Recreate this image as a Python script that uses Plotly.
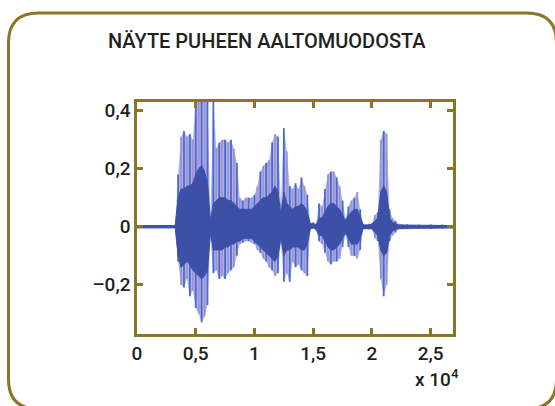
import plotly.graph_objects as go

# ---- data (sample index, amplitude envelopes) ----
sample_pos = [0, 3250, 3500, 3750, 4000, 4250, 4500, 4750, 5000, 5250, 5500, 5750, 6000,
              6250, 6500, 6750, 7000, 7250, 7500, 7750, 8000, 8250, 8500, 8750, 9000,
              9250, 9500, 9750, 10000, 10250, 10500, 10750, 11000, 11250, 11500, 11750,
              12000, 12250, 12500, 12750, 13000, 13250, 13500, 13750, 14000, 14250, 14500,
              14750, 15000, 15250, 15500, 15750, 16000, 16250, 16500, 16750, 17000, 17250,
              17500, 17750, 18000, 18250, 18500, 18750, 19000, 19250, 19500, 19750, 20000,
              20250, 20500, 20750, 21000, 21250, 21500, 21750, 22000, 22250, 23000, 24000,
              25000, 26000, 26900]
peak_hi = [0.005, 0.005, 0.18, 0.31, 0.33, 0.31, 0.32, 0.30, 0.43, 0.43, 0.43, 0.43, 0.43,
           0.04, 0.43, 0.27, 0.29, 0.30, 0.30, 0.29, 0.30, 0.27, 0.22, 0.10, 0.09,
           0.10, 0.10, 0.10, 0.11, 0.14, 0.19, 0.21, 0.22, 0.23, 0.29, 0.32,
           0.31, 0.08, 0.34, 0.26, 0.14, 0.13, 0.15, 0.13, 0.17, 0.14, 0.11,
           0.012, 0.015, 0.01, 0.08, 0.07, 0.13, 0.18, 0.19, 0.19, 0.17, 0.14,
           0.09, 0.03, 0.07, 0.09, 0.10, 0.12, 0.06, 0.01, 0.008, 0.01, 0.012,
           0.04, 0.05, 0.30, 0.33, 0.32, 0.06, 0.03, 0.02, 0.01, 0.008, 0.008,
           0.008, 0.008, 0.006]
peak_lo = [-0.005, -0.005, -0.12, -0.20, -0.21, -0.18, -0.24, -0.22, -0.28, -0.30, -0.33, -0.31, -0.27,
           -0.04, -0.16, -0.15, -0.18, -0.17, -0.18, -0.16, -0.15, -0.14, -0.10, -0.06, -0.055,
           -0.05, -0.05, -0.055, -0.06, -0.08, -0.09, -0.11, -0.12, -0.14, -0.15, -0.17,
           -0.16, -0.05, -0.19, -0.16, -0.19, -0.12, -0.14, -0.13, -0.15, -0.16, -0.17,
           -0.01, -0.005, -0.012, -0.05, -0.06, -0.09, -0.12, -0.13, -0.12, -0.12, -0.11,
           -0.07, -0.03, -0.07, -0.10, -0.10, -0.11, -0.08, -0.01, -0.008, -0.01, -0.01,
           -0.04, -0.05, -0.18, -0.24, -0.20, -0.05, -0.03, -0.02, -0.01, -0.008, -0.008,
           -0.008, -0.008, -0.006]
core_hi = [0.004, 0.004, 0.10, 0.13, 0.13, 0.14, 0.14, 0.15, 0.18, 0.20, 0.21, 0.19, 0.15,
           0.02, 0.08, 0.09, 0.10, 0.10, 0.10, 0.09, 0.09, 0.08, 0.07, 0.06, 0.06,
           0.06, 0.06, 0.06, 0.07, 0.08, 0.09, 0.10, 0.10, 0.11, 0.12, 0.14,
           0.12, 0.04, 0.12, 0.08, 0.07, 0.06, 0.07, 0.07, 0.08, 0.07, 0.05,
           0.01, 0.01, 0.006, 0.03, 0.03, 0.05, 0.07, 0.08, 0.08, 0.07, 0.06,
           0.04, 0.02, 0.04, 0.05, 0.06, 0.06, 0.03, 0.006, 0.005, 0.006, 0.008,
           0.02, 0.03, 0.12, 0.14, 0.12, 0.03, 0.015, 0.01, 0.006, 0.005, 0.005,
           0.005, 0.005, 0.004]
core_lo = [-0.004, -0.004, -0.10, -0.14, -0.13, -0.12, -0.13, -0.15, -0.16, -0.17, -0.18, -0.17, -0.15,
           -0.02, -0.08, -0.08, -0.08, -0.08, -0.07, -0.07, -0.06, -0.06, -0.05, -0.05, -0.04,
           -0.04, -0.04, -0.04, -0.05, -0.06, -0.07, -0.08, -0.09, -0.10, -0.11, -0.12,
           -0.10, -0.04, -0.10, -0.08, -0.08, -0.07, -0.07, -0.07, -0.08, -0.08, -0.06,
           -0.008, -0.004, -0.01, -0.03, -0.03, -0.05, -0.07, -0.08, -0.08, -0.07, -0.06,
           -0.04, -0.02, -0.04, -0.06, -0.06, -0.06, -0.04, -0.006, -0.005, -0.006, -0.006,
           -0.02, -0.03, -0.08, -0.10, -0.09, -0.03, -0.015, -0.01, -0.006, -0.005, -0.005,
           -0.005, -0.005, -0.004]

x_tick_vals = [0, 5000, 10000, 15000, 20000, 25000]
x_tick_text = ["0", "0,5", "1", "1,5", "2", "2,5"]
y_tick_vals = [0.4, 0.2, 0, -0.2]
y_tick_text = ["0,4", "0,2", "0", "\u20130,2"]

title_text = "NÄYTE PUHEEN AALTOMUODOSTA"
exp_text = "x 10<sup>4</sup>"

# ---- styling ----
W, H = 555, 406
L, R, T, B = 137, 453, 102, 334
OLIVE = "#8B7628"
TEXT = "#231f20"
FONT = "Roboto"

fig = go.Figure()

# light fill of the spike envelope
fig.add_trace(go.Scatter(
    x=sample_pos + sample_pos[::-1],
    y=peak_hi + peak_lo[::-1],
    fill="toself", fillcolor="rgba(105,122,212,0.55)",
    line=dict(width=0), mode="lines", hoverinfo="skip", showlegend=False))

# spikes: alternating blue and lavender strokes
for parity, col in ((0, "#4A68CE"), (1, "#A28FD2")):
    xs, ys = [], []
    for i, (s, hi, lo) in enumerate(zip(sample_pos, peak_hi, peak_lo)):
        if i % 2 != parity:
            continue
        xs += [s, s, None]
        ys += [lo, hi, None]
    fig.add_trace(go.Scatter(x=xs, y=ys, mode="lines",
                             line=dict(color=col, width=1.8),
                             hoverinfo="skip", showlegend=False))

# core (dense part of the waveform)
fig.add_trace(go.Scatter(
    x=sample_pos + sample_pos[::-1],
    y=core_hi + core_lo[::-1],
    fill="toself", fillcolor="#3B50A6",
    line=dict(color="#3B50A6", width=1),
    mode="lines", hoverinfo="skip", showlegend=False))

axis_common = dict(showline=True, mirror="ticks", linecolor=OLIVE, linewidth=2.5,
                   ticks="inside", ticklen=6, tickwidth=2.5, tickcolor=OLIVE,
                   showgrid=False, zeroline=False,
                   tickfont=dict(family=FONT, size=19, color=TEXT, weight=500))

fig.update_layout(
    width=W, height=H,
    margin=dict(l=L, r=W - R, t=T, b=H - B, pad=0),
    paper_bgcolor="white", plot_bgcolor="white",
    xaxis=dict(range=[0, 26900], tickvals=x_tick_vals, ticktext=x_tick_text, **axis_common),
    yaxis=dict(range=[-0.37, 0.43], tickvals=y_tick_vals, ticktext=y_tick_text, **axis_common),
)


def px2paper(px, py):
    return (px - L) / (R - L), (B - py) / (B - T)


# rounded outer frame
x0, y0, x1, y1, r = 8.5, 13, 556.5, 409, 30
pts = [("M", x0 + r, y0), ("L", x1 - r, y0), ("Q", x1, y0, x1, y0 + r),
       ("L", x1, y1 - r), ("Q", x1, y1, x1 - r, y1), ("L", x0 + r, y1),
       ("Q", x0, y1, x0, y1 - r), ("L", x0, y0 + r), ("Q", x0, y0, x0 + r, y0)]
path = ""
for p in pts:
    cmd = p[0]
    coords = p[1:]
    segs = []
    for k in range(0, len(coords), 2):
        a, b = px2paper(coords[k], coords[k + 1])
        segs.append(f"{a:.5f},{b:.5f}")
    path += cmd + " ".join(segs) + " "
path += "Z"
fig.add_shape(type="path", path=path, xref="paper", yref="paper",
              line=dict(color=OLIVE, width=3), layer="below")

tx, ty = px2paper(267, 41)
fig.add_annotation(text=title_text, x=tx, y=ty, xref="paper", yref="paper",
                   showarrow=False, xanchor="center", yanchor="middle",
                   font=dict(family=FONT, size=20, color=TEXT, weight=500))
ex, ey = px2paper(461, 378)
fig.add_annotation(text=exp_text, x=ex, y=ey, xref="paper", yref="paper",
                   showarrow=False, xanchor="right", yanchor="middle",
                   font=dict(family=FONT, size=19, color=TEXT, weight=500))

fig.write_html("out.html", config={"displayModeBar": False},
               post_script="document.body.style.margin='0px';"
                           "document.body.style.overflow='hidden';")
